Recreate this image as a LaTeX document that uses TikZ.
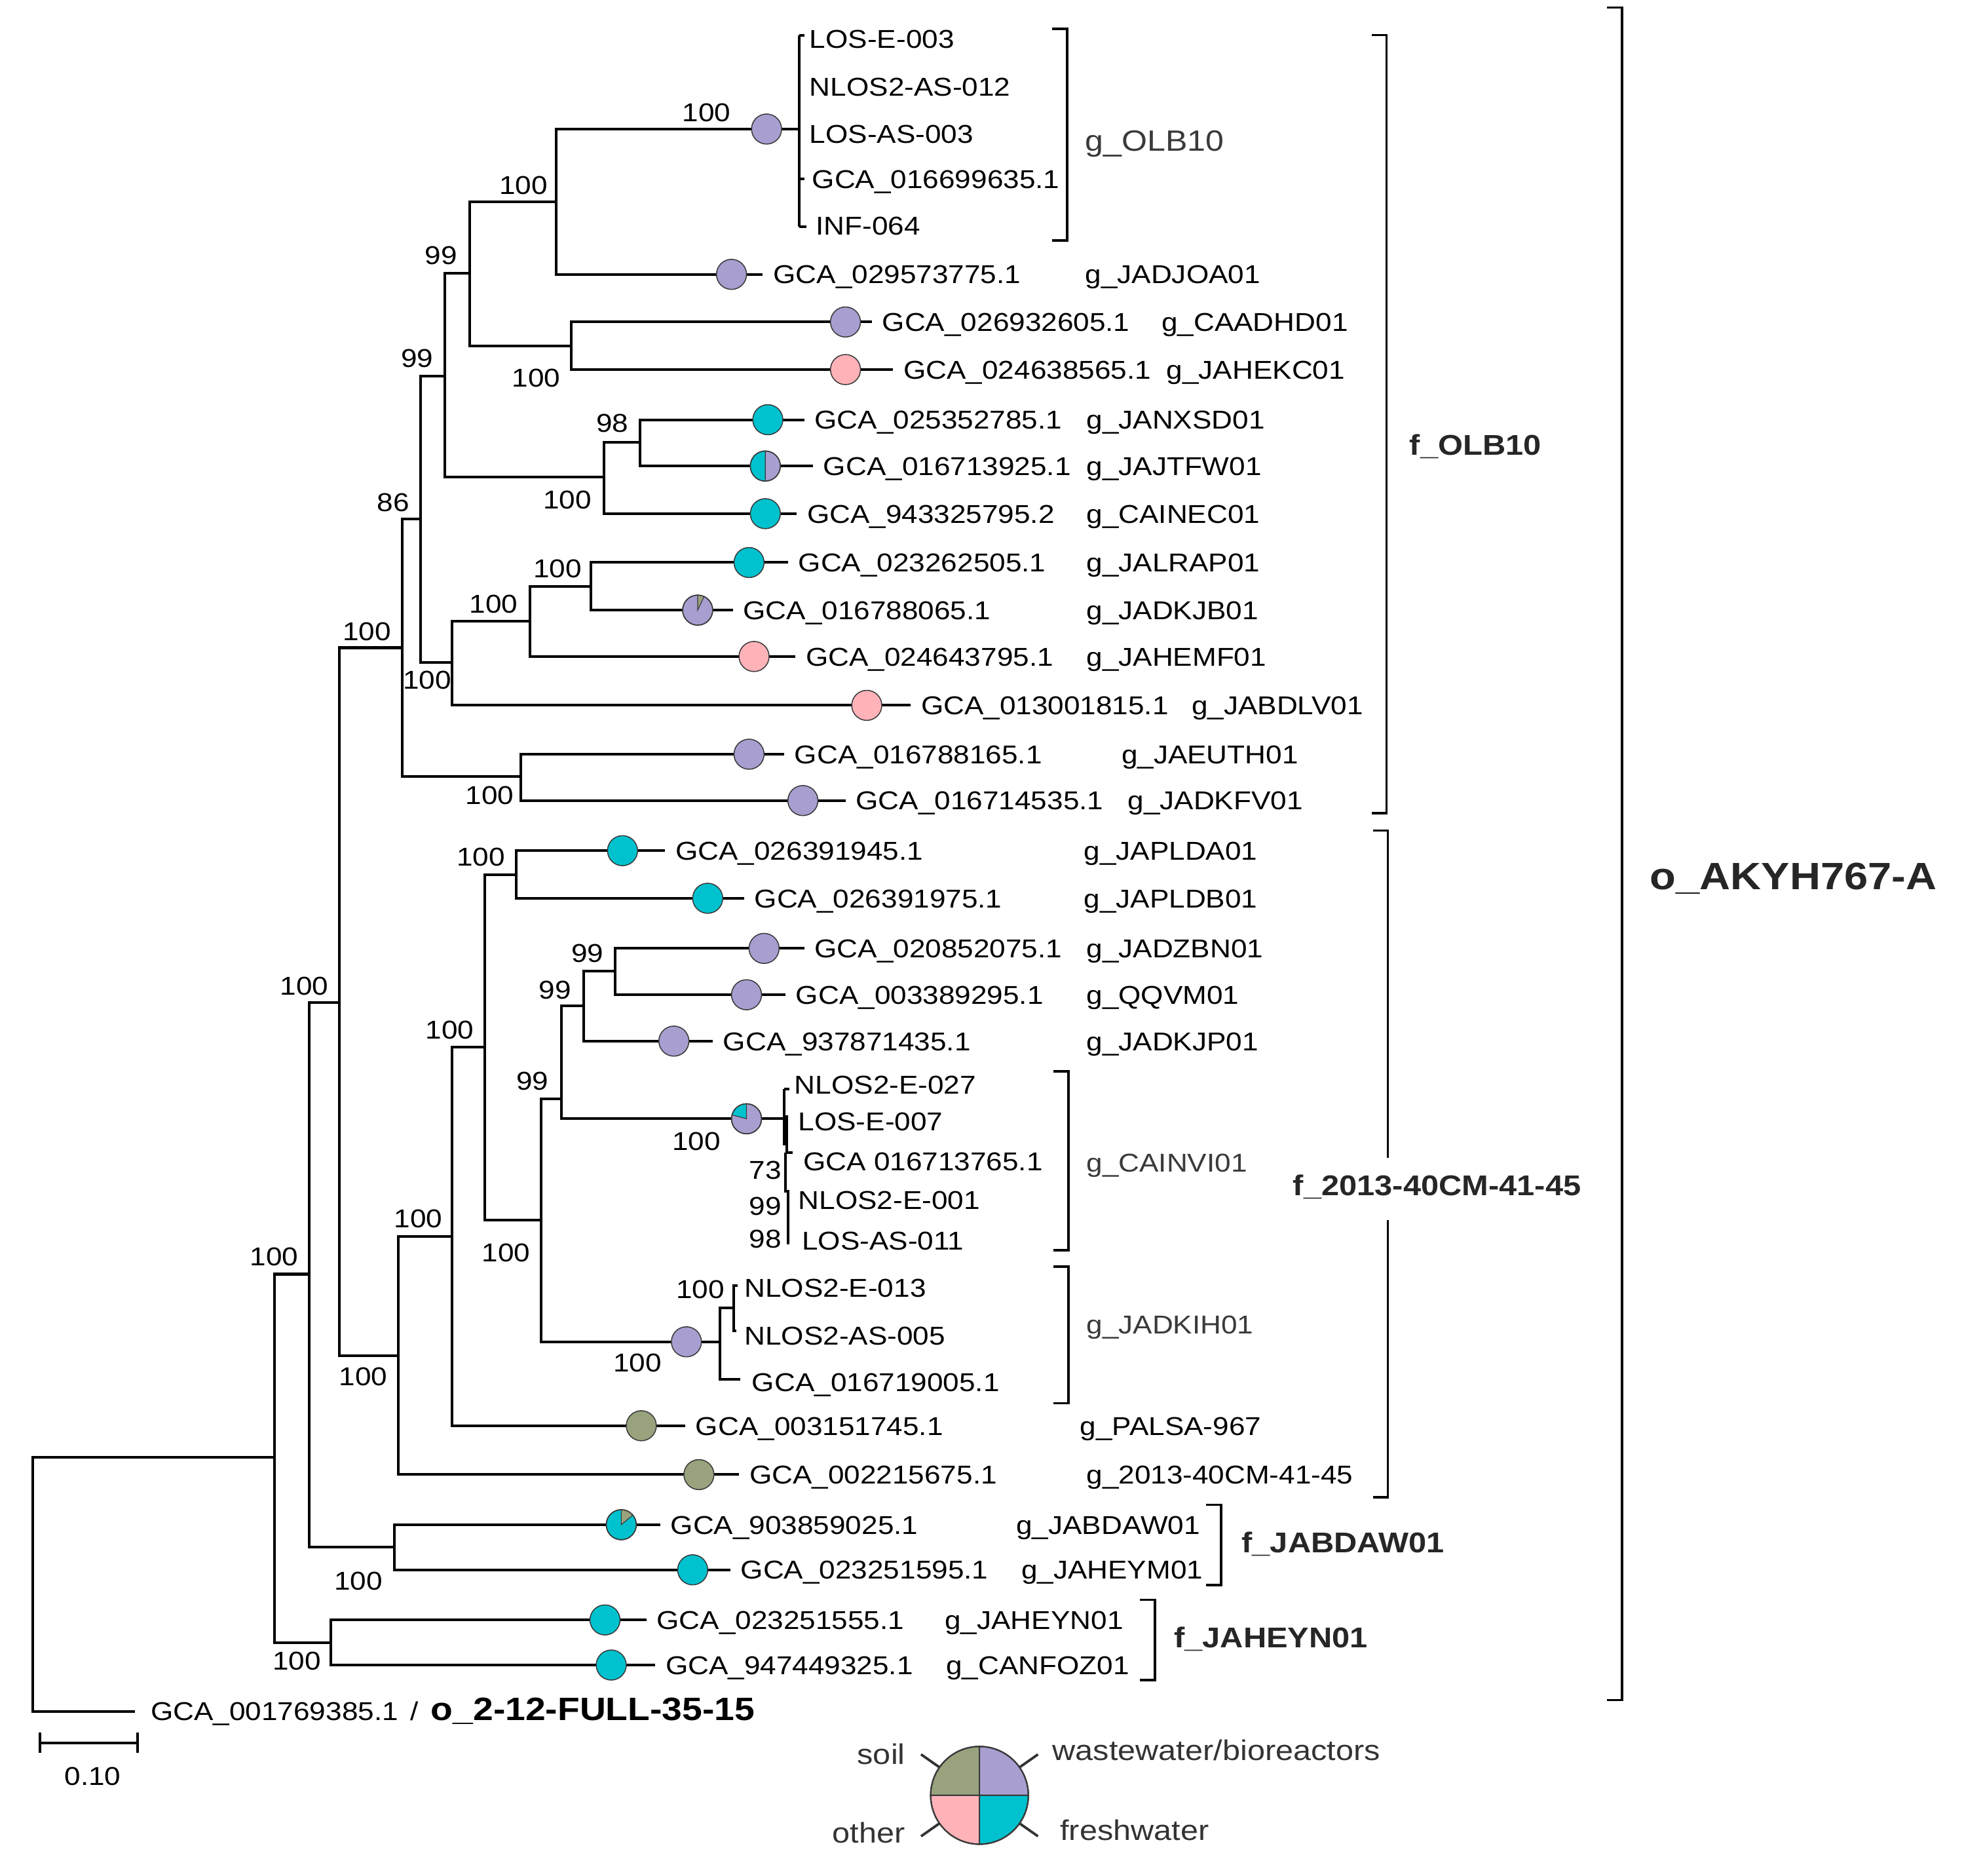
\documentclass[tikz,border=0pt]{standalone}
\usepackage{fontspec}
\setmainfont{Liberation Sans}[FakeStretch=1.12]
\usetikzlibrary{calc}

\definecolor{lav}{HTML}{A99ED0}
\definecolor{cyn}{HTML}{00C2CF}
\definecolor{pnk}{HTML}{FFB3B9}
\definecolor{olv}{HTML}{98A37E}
\definecolor{dgray}{HTML}{333333}
\definecolor{ggray}{HTML}{3A3A3A}
\definecolor{fgray}{HTML}{262626}
\definecolor{edgec}{HTML}{3A3A3A}

\newcommand{\fs}{\fontsize{10.3}{12}\selectfont}
\newcommand{\fb}{\fontsize{11.4}{13}\selectfont\bfseries}
\newcommand{\fl}{\fontsize{11.35}{13}\selectfont}

% leaf: name, parent, y, pie x, pie colour, text x, label, genus x, genus
\newcommand{\leaf}[9]{%
  \coordinate (e#1) at ({#6-8},#3);
  \draw[br] (#2) |- (e#1);
  \node[pie,fill=#5] (p#1) at (#4,#3) {};
  \node[lbl] (t#1) at (#6,#3) {#7};
  \node[lbl] (g#1) at (#8,#3) {#9};
}
% wedge: pie node, colour, start angle, end angle
\newcommand{\wedgefill}[4]{%
  \filldraw[fill=#2,draw=edgec,line width=0.3pt] (#1.center) -- ++(#3:6pt) arc[start angle=#3,end angle=#4,radius=6pt] -- cycle;
  \draw[edgec,line width=0.4pt] (#1.center) circle[radius=6pt];
}
% bracket: name, x, ytop, ybottom
\newcommand{\bracketR}[4]{%
  \coordinate (#1t) at (#2,#3);
  \coordinate (#1b) at (#2,#4);
  \draw[brk] ($(#1t)+(-12,0)$) -- (#1t) -- (#1b) -- ($(#1b)+(-12,0)$);
}

\begin{document}
\begin{tikzpicture}[x=0.5pt,y=-0.5pt,
  br/.style={line width=1.05pt,black},
  brk/.style={line width=0.95pt,black},
  pie/.style={circle,minimum size=12pt,inner sep=0pt,draw=edgec,line width=0.4pt},
  lbl/.style={anchor=base west,inner sep=0pt,yshift=-3.7pt,font=\fs},
  bs/.style={inner sep=0pt,font=\fs},
  glbl/.style={lbl,text=ggray},
  flbl/.style={anchor=base west,inner sep=0pt,yshift=-4.1pt,font=\fb,text=fgray},
  leg/.style={inner sep=0pt,font=\fl,text=dgray}
]
\useasboundingbox (0,0) rectangle (1568,1497);

% ---------- internal nodes ----------
\coordinate (A) at (444,161);
\coordinate (B) at (456,276);
\coordinate (C) at (375,218);
\coordinate (E) at (511,353);
\coordinate (F) at (482,381);
\coordinate (D) at (355,300);
\coordinate (I) at (472,468);
\coordinate (J) at (423,496);
\coordinate (K) at (361,529);
\coordinate (G) at (336,414);
\coordinate (M) at (416,620);
\coordinate (L) at (321,517);
\coordinate (Q) at (412,698);
\coordinate (R) at (491,775);
\coordinate (S) at (466,803);
\coordinate (U) at (448,877);
\coordinate (T) at (626,893);
\coordinate (V) at (432,974);
\coordinate (X) at (575,1071);
\coordinate (Y) at (586,1044);
\coordinate (W) at (387,836);
\coordinate (Z) at (361,987);
\coordinate (AA) at (318,1082);
\coordinate (N) at (271,800);
\coordinate (AB) at (315,1235);
\coordinate (O) at (247,1017);
\coordinate (AC) at (264,1311);
\coordinate (P) at (219,1163);
\coordinate (R0) at (26,1265);
\coordinate (OLB) at (638,103);

% ---------- internal edges ----------
\draw[br] (C) |- (A);  \draw[br] (C) |- (B);
\draw[br] (D) |- (C);  \draw[br] (D) |- (F);
\draw[br] (F) |- (E);
\draw[br] (G) |- (D);  \draw[br] (G) |- (K);
\draw[br] (K) |- (J);  \draw[br] (J) |- (I);
\draw[br] (L) |- (G);  \draw[br] (L) |- (M);
\draw[br] (N) |- (L);  \draw[br] (N) |- (AA);
\draw[br] (AA) |- (Z); \draw[br] (Z) |- (W);
\draw[br] (W) |- (Q);  \draw[br] (W) |- (V);
\draw[br] (V) |- (U);  \draw[br] (V) |- (X);
\draw[br] (U) |- (S);  \draw[br] (U) |- (T);
\draw[br] (S) |- (R);
\draw[br] (X) |- (Y);
\draw[br] (O) |- (N);  \draw[br] (O) |- (AB);
\draw[br] (P) |- (O);  \draw[br] (P) |- (AC);
\draw[br] (R0) |- (P);
\coordinate (eout) at (108,1366);
\draw[br] (R0) |- (eout);

% ---------- OLB10 polytomy ----------
\draw[br] (A) |- (OLB);
\coordinate (OLBt) at (638,28);
\coordinate (OLBb) at (638,181);
\draw[br] (OLBt) -- (OLBb);
\coordinate (s1) at (642,28);  \draw[br] (OLBt) -- (s1);
\coordinate (s2) at (638,143); \coordinate (s2e) at (642,143); \draw[br] (s2) -- (s2e);
\coordinate (s3) at (644,181); \draw[br] (OLBb) -- (s3);
\node[pie,fill=lav] (polb) at (612,103) {};
\node[lbl] (tlose003) at (646,31) {LOS-E-003};
\node[lbl] (tnlosas012) at (646,69) {NLOS2-AS-012};
\node[lbl] (tlosas003) at (646,107) {LOS-AS-003};
\node[lbl] (t016699635) at (648,143) {GCA\_016699635.1};
\node[lbl] (tinf064) at (651,180) {INF-064};

% ---------- leaves ----------
\leaf{jadjoa}{A}{219}{584}{lav}{617}{GCA\_029573775.1}{866}{g\_JADJOA01}
\leaf{caadhd}{B}{257}{675}{lav}{704}{GCA\_026932605.1}{927}{g\_CAADHD01}
\leaf{jahekc}{B}{295}{675}{pnk}{721}{GCA\_024638565.1}{931}{g\_JAHEKC01}
\leaf{janxsd}{E}{335}{613}{cyn}{650}{GCA\_025352785.1}{867}{g\_JANXSD01}
\leaf{jajtfw}{E}{372}{611}{lav}{657}{GCA\_016713925.1}{867}{g\_JAJTFW01}
\wedgefill{pjajtfw}{cyn}{90}{270}
\leaf{cainec}{F}{410}{611}{cyn}{644}{GCA\_943325795.2}{867}{g\_CAINEC01}
\leaf{jalrap}{I}{449}{598}{cyn}{637}{GCA\_023262505.1}{867}{g\_JALRAP01}
\leaf{jadkjb}{I}{487}{557}{lav}{593}{GCA\_016788065.1}{867}{g\_JADKJB01}
\wedgefill{pjadkjb}{olv}{65}{90}
\leaf{jahemf}{J}{524}{602}{pnk}{643}{GCA\_024643795.1}{867}{g\_JAHEMF01}
\leaf{jabdlv}{K}{563}{692}{pnk}{735}{GCA\_013001815.1}{951}{g\_JABDLV01}
\leaf{jaeuth}{M}{602}{598}{lav}{634}{GCA\_016788165.1}{895}{g\_JAEUTH01}
\leaf{jadkfv}{M}{639}{641}{lav}{683}{GCA\_016714535.1}{900}{g\_JADKFV01}
\leaf{japlda}{Q}{679}{497}{cyn}{539}{GCA\_026391945.1}{865}{g\_JAPLDA01}
\leaf{japldb}{Q}{717}{565}{cyn}{602}{GCA\_026391975.1}{865}{g\_JAPLDB01}
\leaf{jadzbn}{R}{757}{610}{lav}{650}{GCA\_020852075.1}{867}{g\_JADZBN01}
\leaf{qqvm}{R}{794}{596}{lav}{635}{GCA\_003389295.1}{867}{g\_QQVM01}
\leaf{jadkjp}{S}{831}{538}{lav}{577}{GCA\_937871435.1}{867}{g\_JADKJP01}
\leaf{palsa}{Z}{1138}{512}{olv}{555}{GCA\_003151745.1}{862}{g\_PALSA-967}
\leaf{gtwenty}{AA}{1177}{558}{olv}{598}{GCA\_002215675.1}{867}{g\_2013-40CM-41-45}
\leaf{jabdaw}{AB}{1217}{496}{cyn}{535}{GCA\_903859025.1}{811}{g\_JABDAW01}
\wedgefill{pjabdaw}{olv}{40}{90}
\leaf{jaheym}{AB}{1253}{553}{cyn}{591}{GCA\_023251595.1}{815}{g\_JAHEYM01}
\leaf{jaheyn}{AC}{1293}{483}{cyn}{524}{GCA\_023251555.1}{754}{g\_JAHEYN01}
\leaf{canfoz}{AC}{1329}{488}{cyn}{531}{GCA\_947449325.1}{755}{g\_CANFOZ01}

% ---------- CAINVI01 clade ----------
\coordinate (c1) at (626,869); \coordinate (c2) at (626,914);
\draw[br] (c1) -- (c2);
\coordinate (c1e) at (630,869); \draw[br] (c1) -- (c1e);
\coordinate (c3) at (628,890); \coordinate (c4) at (628,920);
\draw[br] (c3) -- (c4);
\coordinate (c4e) at (633,920); \draw[br] (c4) -- (c4e);
\coordinate (c5) at (627,920); \coordinate (c6) at (627,952);
\draw[br] (c5) -- (c6);
\coordinate (c7) at (629,950); \coordinate (c8) at (629,993);
\draw[br] (c7) -- (c8);
\node[pie,fill=lav] (pcainvi) at (596,893) {};
\wedgefill{pcainvi}{cyn}{90}{165}
\node[lbl] (tnlose027) at (634,866) {NLOS2-E-027};
\node[lbl] (tlose007) at (637,895) {LOS-E-007};
\node[lbl] (t016713765) at (641,927) {GCA 016713765.1};
\node[lbl] (tnlose001) at (637,958) {NLOS2-E-001};
\node[lbl] (tlosas011) at (640,990) {LOS-AS-011};

% ---------- JADKIH01 clade ----------
\coordinate (e016719005) at (591,1101);
\draw[br] (X) |- (e016719005);
\coordinate (ee013) at (589,1026);
\coordinate (eas005) at (588,1062);
\draw[br] (Y) |- (ee013);
\draw[br] (Y) |- (eas005);
\node[pie,fill=lav] (pjadkih) at (548,1071) {};
\node[lbl] (tnlose013) at (594,1028) {NLOS2-E-013};
\node[lbl] (tnlosas005) at (594,1066) {NLOS2-AS-005};
\node[lbl] (t016719005) at (600,1103) {GCA\_016719005.1};

% ---------- outgroup ----------
\node[lbl] (tout) at (120,1366) {GCA\_001769385.1 \,/\, {\fontsize{12.9}{14}\selectfont\bfseries o\_2-12-FULL-35-15}};

% ---------- bootstrap values ----------
\node[bs] (b1) at (564,90) {100};
\node[bs] (b2) at (418,148) {100};
\node[bs] (b3) at (352,204) {99};
\node[bs] (b4) at (333,286) {99};
\node[bs] (b5) at (428,302) {100};
\node[bs] (b6) at (489,338) {98};
\node[bs] (b7) at (453,399) {100};
\node[bs] (b8) at (314,401) {86};
\node[bs] (b9) at (445,454) {100};
\node[bs] (b10) at (394,482) {100};
\node[bs] (b11) at (293,504) {100};
\node[bs] (b12) at (341,543) {100};
\node[bs] (b13) at (391,635) {100};
\node[bs] (b14) at (384,684) {100};
\node[bs] (b15) at (469,761) {99};
\node[bs] (b16) at (243,787) {100};
\node[bs] (b17) at (443,790) {99};
\node[bs] (b18) at (359,822) {100};
\node[bs] (b19) at (425,863) {99};
\node[bs] (b20) at (556,911) {100};
\node[bs] (b21) at (611,934) {73};
\node[bs] (b22) at (611,963) {99};
\node[bs] (b23) at (611,989) {98};
\node[bs] (b24) at (334,973) {100};
\node[bs] (b25) at (404,1000) {100};
\node[bs] (b26) at (219,1003) {100};
\node[bs] (b27) at (559,1029) {100};
\node[bs] (b28) at (509,1088) {100};
\node[bs] (b29) at (290,1099) {100};
\node[bs] (b30) at (286,1262) {100};
\node[bs] (b31) at (237,1326) {100};

% ---------- brackets ----------
\bracketR{kolb}{852}{23}{192}
\bracketR{kcainvi}{853}{855}{998}
\bracketR{kjadkih}{853}{1011}{1120}
\bracketR{kfolb}{1107}{28}{649}
\bracketR{kfjabdaw}{975}{1201}{1265}
\bracketR{kfjaheyn}{922}{1277}{1341}
\bracketR{kord}{1295}{6}{1357}
\coordinate (kf2t) at (1108,663);
\coordinate (kf2g1) at (1108,924);
\coordinate (kf2g2) at (1108,974);
\coordinate (kf2b) at (1108,1195);
\draw[brk] ($(kf2t)+(-12,0)$) -- (kf2t) -- (kf2g1);
\draw[brk] (kf2g2) -- (kf2b) -- ($(kf2b)+(-12,0)$);

\node[glbl,font=\fontsize{11.7}{13}\selectfont,yshift=-0.5pt] (lgolb) at (866,112) {g\_OLB10};
\node[glbl] (lgcainvi) at (867,928) {g\_CAINVI01};
\node[glbl] (lgjadkih) at (867,1057) {g\_JADKIH01};
\node[flbl] (lfolb) at (1125,355) {f\_OLB10};
\node[flbl] (lf2013) at (1032,946) {f\_2013-40CM-41-45};
\node[flbl] (lfjabdaw) at (991,1231) {f\_JABDAW01};
\node[flbl] (lfjaheyn) at (937,1307) {f\_JAHEYN01};
\node[anchor=base west,inner sep=0pt,yshift=-5.4pt,text=fgray,font=\fontsize{15.2}{17}\selectfont\bfseries] (lord) at (1317,699) {o\_AKYH767-A};

% ---------- scale bar ----------
\coordinate (sbl) at (32,1391);
\coordinate (sbr) at (110,1391);
\draw[br] (sbl) -- (sbr);
\draw[br] ($(sbl)+(0,-8)$) -- ($(sbl)+(0,8)$);
\draw[br] ($(sbr)+(0,-8)$) -- ($(sbr)+(0,8)$);
\node[bs] (sbt) at (74,1418) {0.10};

% ---------- legend ----------
\coordinate (LC) at (782,1433);
\filldraw[fill=olv,draw=edgec,line width=0.5pt] (LC) -- ++(90:19.5pt) arc[start angle=90,end angle=180,radius=19.5pt] -- cycle;
\filldraw[fill=lav,draw=edgec,line width=0.5pt] (LC) -- ++(0:19.5pt) arc[start angle=0,end angle=90,radius=19.5pt] -- cycle;
\filldraw[fill=pnk,draw=edgec,line width=0.5pt] (LC) -- ++(180:19.5pt) arc[start angle=180,end angle=270,radius=19.5pt] -- cycle;
\filldraw[fill=cyn,draw=edgec,line width=0.5pt] (LC) -- ++(270:19.5pt) arc[start angle=270,end angle=360,radius=19.5pt] -- cycle;
\draw[edgec,line width=0.6pt] (LC) circle[radius=19.5pt];
\foreach \a in {35,145,215,325}{
  \draw[dgray,line width=1pt] ($(LC)+(\a:19.5pt)$) -- ($(LC)+(\a:28.5pt)$);
}
\node[leg,anchor=base east] (lsoil) at (723,1408) {soil};
\node[leg,anchor=base west] (lwaste) at (840,1405) {wastewater/bioreactors};
\node[leg,anchor=base east] (lother) at (723,1471) {other};
\node[leg,anchor=base west] (lfresh) at (846,1469) {freshwater};
\end{tikzpicture}
\end{document}
